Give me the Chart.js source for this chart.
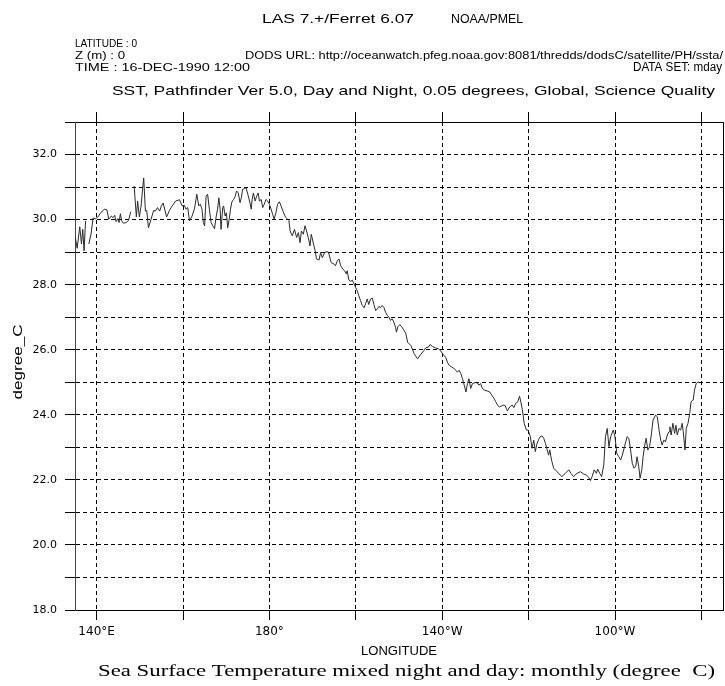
<!DOCTYPE html>
<html>
<head>
<meta charset="utf-8">
<script src="https://cdn.jsdelivr.net/npm/chart.js@4.4.1/dist/chart.umd.min.js"></script>
<style>
    html, body { margin: 0; padding: 0; background: #fff; }
    #contenedor { width: 725px; height: 686px; }
</style>
</head>
<body>
<div id="contenedor"><canvas id="graficoSST" width="725" height="686"></canvas></div>
<script>
// ====================================================================
// DATOS - SST a lo largo del ecuador (longitud en grados, 0-360)
// ====================================================================

const longitudes = [
    135.0, 135.5, 136.1, 136.5, 136.8, 137.1, 137.45, 137.8, 138.2, 138.7, 139.2, 139.7,
    140.3, 140.8, 141.3, 141.8, 142.4, 142.8, 143.4, 143.8, 144.2, 144.5, 144.9, 145.2,
    145.5, 145.8, 146.2, 146.9, 147.4, 147.9, 148.3, 148.7, 149.2, 149.5, 149.9, 150.3,
    150.6, 150.9, 151.3, 151.6, 152.0, 152.6, 153.2, 153.6, 154.1, 154.6, 155.0, 155.4,
    155.8, 156.2, 156.9, 157.5, 158.3, 159.2, 159.8, 160.3, 160.7, 161.1, 161.5, 162.1,
    162.65, 163.2, 163.65, 164.0, 164.4, 164.7, 165.0, 165.35, 165.7, 166.1, 166.5, 166.9,
    167.3, 167.7, 168.0, 168.3, 168.6, 168.8, 169.2, 169.4, 169.75, 170.05, 170.35, 170.7,
    171.0, 171.3, 171.7, 172.05, 172.4, 172.8, 173.2, 173.5, 173.8, 174.2, 174.6, 175.0,
    175.4, 175.8, 176.0, 176.3, 176.7, 177.05, 177.4, 177.7, 178.1, 178.45, 178.8, 179.2,
    179.6, 180.0, 180.4, 180.75, 181.1, 181.5, 181.9, 182.3, 182.7, 183.2, 183.7, 184.2,
    184.5, 184.8, 185.3, 185.8, 186.3, 186.7, 187.1, 187.4, 187.85, 188.25, 188.6, 189.0,
    189.4, 189.7, 190.2, 190.6, 190.9, 191.5, 191.85, 192.25, 192.8, 193.4, 193.8, 194.3,
    195.0, 195.3, 195.7, 196.1, 196.5, 197.0, 197.4, 197.8, 198.0, 198.4, 198.8, 199.2,
    199.6, 199.95, 200.3, 200.7, 201.1, 201.5, 201.9, 202.25, 202.65, 203.0, 203.4, 203.8,
    204.2, 204.6, 205.0, 205.35, 205.7, 206.1, 206.5, 206.9, 207.3, 207.7, 208.0, 208.4,
    208.8, 209.2, 209.4, 209.75, 210.2, 210.6, 211.2, 211.6, 212.0, 212.75, 213.5, 214.3,
    215.05, 215.8, 216.2, 216.8, 217.2, 217.75, 218.4, 219.1, 219.7, 220.05, 220.8, 221.2,
    221.6, 222.2, 222.75, 223.15, 223.5, 223.9, 224.3, 224.7, 225.1, 225.5, 225.85, 226.2,
    226.6, 227.0, 227.6, 228.15, 228.5, 228.9, 229.3, 229.9, 230.5, 231.0, 231.5, 232.0,
    232.4, 232.8, 233.2, 233.6, 234.1, 234.55, 234.85, 235.1, 235.6, 236.2, 236.6, 237.0,
    237.5, 237.9, 238.2, 238.55, 239.0, 239.5, 239.9, 240.4, 240.8, 241.2, 241.55, 241.95,
    242.35, 242.7, 243.1, 243.5, 243.9, 244.3, 244.65, 244.9, 245.1, 245.4, 245.8, 246.6,
    247.3, 247.7, 248.5, 249.3, 249.8, 250.4, 251.2, 252.0, 252.75, 253.35, 253.9, 254.3,
    254.7, 255.2, 255.7, 256.0, 256.45, 256.9, 257.4, 257.8, 258.2, 258.6, 259.0, 259.6,
    260.0, 260.4, 260.9, 261.3, 261.7, 262.2, 262.8, 263.2, 263.6, 264.0, 264.4, 264.8,
    265.1, 265.5, 265.8, 266.2, 266.5, 266.9, 267.2, 267.6, 268.0, 268.4, 268.8, 269.4,
    269.8, 270.2, 270.6, 270.9, 271.3, 271.7, 272.1, 272.5, 272.7, 273.0, 273.4, 273.8,
    274.1, 274.4, 274.8, 275.2, 275.55, 275.8, 276.2, 276.5, 276.9, 277.3, 277.6, 278.1,
    278.4, 278.8, 279.2, 279.6
];

const temperaturas = [
    29.50, 29.12, 29.78, 29.25, 29.70, 29.04, 29.96, null, 29.25, 29.55, 30.05, 30.02,
    30.08, 30.18, 30.26, 30.32, 30.30, 30.01, 30.11, 30.06, 30.13, 29.94, 30.03, 29.91,
    30.18, 29.96, 29.89, 29.91, 29.98, 30.24, null, 31.03, 30.08, 30.57, 30.08, 30.42,
    30.88, 31.28, 30.26, 30.28, 29.75, 30.01, 30.28, 30.26, 30.37, 30.26, 30.42, 30.51,
    30.30, 30.08, 30.29, 30.42, 30.57, 30.61, 30.42, 30.44, 30.32, 30.37, 29.96, 30.11,
    30.33, 30.78, 30.42, 30.47, 30.32, 29.91, 29.81, 30.72, 30.78, 30.32, 29.91, 29.81,
    29.72, 30.11, 30.32, 30.67, 30.32, 29.70, 30.37, 30.42, 30.11, 30.21, 29.75, 30.01,
    30.32, 30.54, 30.62, 30.70, 30.88, 30.82, 30.52, 30.67, 30.93, 30.95, 30.98, 30.78,
    30.57, 30.32, 30.62, 30.82, 30.57, 30.72, 30.82, 30.57, 30.62, 30.37, 30.47, 30.62,
    30.57, 30.47, 30.32, 30.16, 30.01, 30.21, 30.47, 30.55, 30.42, 30.24, 30.08, 30.02,
    29.98, 29.65, 29.50, 29.70, 29.45, 29.60, 29.29, 29.65, 29.55, 29.81, 29.65, 29.45,
    29.19, 29.55, 29.25, 29.04, 28.79, 28.76, 28.99, 28.83, 28.99, 29.02, 28.94, 28.68,
    28.63, 28.58, 28.73, 28.79, 28.58, 28.48, 28.43, 28.33, 28.43, 28.14, 28.10, 28.14,
    28.02, 27.92, 27.82, 27.66, 27.51, 27.36, 27.29, 27.41, 27.56, 27.39, 27.56, 27.59,
    27.39, 27.20, 27.26, 27.33, 27.29, 27.36, 27.30, 27.15, 27.05, 27.00, 26.90, 26.95,
    26.85, 26.69, 26.54, 26.71, 26.77, 26.71, 26.59, 26.49, 26.23, 26.13, 25.88, 25.72,
    25.86, 25.98, 26.06, 26.08, 26.16, 26.10, 26.06, 26.03, 25.96, 25.88, 25.77, 25.62,
    25.52, 25.47, 25.42, 25.37, 25.31, 25.37, 25.27, 25.11, 24.91, 24.70, 24.96, 25.11,
    24.81, 24.96, 24.99, 24.98, 24.91, 24.96, 24.81, 24.75, 24.73, 24.70, 24.60, 24.50,
    24.40, 24.30, 24.24, 24.26, 24.30, 24.29, 24.19, 24.12, 24.24, 24.30, 24.22, 24.35,
    24.40, 24.57, 24.40, 24.16, 23.73, 23.53, 23.53, 23.33, 22.97, 23.22, 22.87, 23.12,
    23.25, 23.33, 23.35, 23.28, 23.12, 22.92, 22.76, 22.92, 22.76, 22.56, 22.36, 22.25,
    22.15, 22.10, 22.20, 22.31, 22.20, 22.10, 22.20, 22.25, 22.18, 22.15, 22.08, 21.98,
    22.10, 22.31, 22.20, 22.33, 22.20, 22.10, 22.46, 23.33, 23.58, 23.02, 23.33, 23.53,
    23.33, 22.82, 22.71, 22.61, 22.76, 23.02, 23.33, 23.28, 22.92, 22.51, 22.36, 22.41,
    22.71, 22.41, 22.05, 22.31, 22.71, 23.07, 23.28, 22.92, 23.02, 23.38, 23.84, 23.99,
    23.94, 23.53, 23.22, 23.07, 23.22, 23.17, 23.38, 23.48, 23.63, 23.38, 23.74, 23.43,
    23.68, 23.38, 23.58, 23.53, 23.74, 23.48, 22.92, 23.58, 23.74, 24.04, 24.40, 24.45,
    24.76, 24.96, 25.01, 24.98
];

// Marcas de los ejes
const ticksX = [140, 160, 180, 200, 220, 240, 260, 280];
const etiquetasX = ['140°E', '', '180°', '', '140°W', '', '100°W', ''];
const ticksY = [18, 19, 20, 21, 22, 23, 24, 25, 26, 27, 28, 29, 30, 31, 32, 33];
const etiquetasY = ['18.0', '', '20.0', '', '22.0', '', '24.0', '', '26.0', '', '28.0', '', '30.0', '', '32.0', ''];

const rangoX = [135, 285];
const rangoY = [18, 33];

// ====================================================================
// Textos de cabecera y pie (dibujados ajustando el ancho)
// ====================================================================
function textoAjustado(ctx, texto, x, y, ancho, fuente, alineacion) {
    ctx.save();
    ctx.font = fuente;
    ctx.textBaseline = 'middle';
    ctx.textAlign = 'left';
    const medida = ctx.measureText(texto).width;
    const escala = ancho / medida;
    let x0 = x;
    if (alineacion === 'right') x0 = x - ancho;
    if (alineacion === 'center') x0 = x - ancho / 2;
    ctx.translate(x0, y);
    ctx.scale(escala, 1);
    ctx.fillText(texto, 0, 0);
    ctx.restore();
}

const pluginTextos = {
    id: 'textosFerret',
    afterDraw(chart) {
        const ctx = chart.ctx;
        ctx.save();
        ctx.fillStyle = '#000';
        const sans = '"Liberation Sans", Arial, sans-serif';

        textoAjustado(ctx, 'LAS 7.+/Ferret 6.07', 262, 19, 152, '13px ' + sans);
        textoAjustado(ctx, 'NOAA/PMEL', 451, 19, 72, '13px ' + sans);

        textoAjustado(ctx, 'LATITUDE : 0', 75, 44, 62, '11px ' + sans);
        textoAjustado(ctx, 'Z (m) : 0', 75, 56, 50, '11px ' + sans);
        textoAjustado(ctx, 'TIME : 16-DEC-1990 12:00', 75, 68, 175, '11px ' + sans);
        textoAjustado(ctx, 'DODS URL: http://oceanwatch.pfeg.noaa.gov:8081/thredds/dodsC/satellite/PH/ssta/', 245, 56, 478, '10px ' + sans);
        textoAjustado(ctx, 'DATA SET: mday', 722, 68, 89, '12px ' + sans, 'right');

        textoAjustado(ctx, 'SST, Pathfinder Ver 5.0, Day and Night, 0.05 degrees, Global, Science Quality', 112, 91, 603, '13px ' + sans);

        // Titulo del eje X
        textoAjustado(ctx, 'LONGITUDE', 399, 651, 76, '13px ' + sans, 'center');

        // Titulo del eje Y (rotado)
        ctx.save();
        ctx.translate(18, 362);
        ctx.rotate(-Math.PI / 2);
        textoAjustado(ctx, 'degree_C', 0, 0, 75, '13px ' + sans, 'center');
        ctx.restore();

        // Pie con fuente serif
        textoAjustado(ctx, 'Sea Surface Temperature mixed night and day: monthly (degree  C)', 98, 672, 617, '16px "Liberation Serif", "Times New Roman", serif');

        ctx.restore();
    }
};

// ====================================================================
// GRAFICO
// ====================================================================
const puntos = longitudes.map((lon, i) => ({ x: lon, y: temperaturas[i] }));
const fijarTicks = valores => scale => { scale.ticks = valores.map(v => ({ value: v })); };

const ctx = document.getElementById('graficoSST').getContext('2d');
new Chart(ctx, {
    type: 'line',
    data: {
        datasets: [{
            label: 'SST',
            data: puntos,
            borderColor: '#2a2a2a',
            borderWidth: 1,
            pointRadius: 0,
            tension: 0,
            spanGaps: false,
            fill: false
        }]
    },
    options: {
        responsive: false,
        animation: false,
        devicePixelRatio: 1,
        layout: { padding: { top: 112, left: 0, right: 0, bottom: 0 } },
        plugins: {
            legend: { display: false },
            tooltip: { enabled: false },
            title: { display: false }
        },
        scales: {
            x: {
                type: 'linear',
                position: 'bottom',
                min: rangoX[0],
                max: rangoX[1],
                afterBuildTicks: fijarTicks(ticksX),
                afterFit: scale => { scale.height = 76; },
                ticks: {
                    autoSkip: false,
                    maxRotation: 0,
                    padding: 5,
                    color: '#000',
                    font: { family: '"DejaVu Sans", sans-serif', size: 12 },
                    callback: value => etiquetasX[ticksX.indexOf(value)] || ''
                },
                grid: {
                    color: '#000',
                    lineWidth: 1,
                    tickLength: 10,
                    tickColor: '#000',
                    tickBorderDash: []
                },
                border: { display: true, color: '#000', width: 1, dash: [4, 3] }
            },
            xArriba: {
                type: 'linear',
                position: 'top',
                min: rangoX[0],
                max: rangoX[1],
                afterBuildTicks: fijarTicks(ticksX),
                afterFit: scale => { scale.height = 10; },
                ticks: { display: false },
                grid: {
                    drawOnChartArea: false,
                    tickLength: 10,
                    tickColor: '#000',
                    tickBorderDash: []
                },
                border: { display: true, color: '#000', width: 1 }
            },
            y: {
                type: 'linear',
                position: 'left',
                min: rangoY[0],
                max: rangoY[1],
                afterBuildTicks: fijarTicks(ticksY),
                afterFit: scale => { scale.width = 75; },
                ticks: {
                    autoSkip: false,
                    padding: 8,
                    color: '#000',
                    font: { family: '"DejaVu Sans", sans-serif', size: 11 },
                    callback: value => etiquetasY[ticksY.indexOf(value)] || ''
                },
                grid: {
                    color: '#000',
                    lineWidth: 1,
                    tickLength: 10,
                    tickColor: '#000',
                    tickBorderDash: []
                },
                border: { display: true, color: '#444', width: 1, dash: [4, 3] }
            },
            yDerecha: {
                type: 'linear',
                position: 'right',
                min: rangoY[0],
                max: rangoY[1],
                afterFit: scale => { scale.width = 2; },
                ticks: { display: false },
                grid: { drawOnChartArea: false, drawTicks: false },
                border: { display: true, color: '#000', width: 1 }
            }
        }
    },
    plugins: [pluginTextos]
});
</script>
</body>
</html>
